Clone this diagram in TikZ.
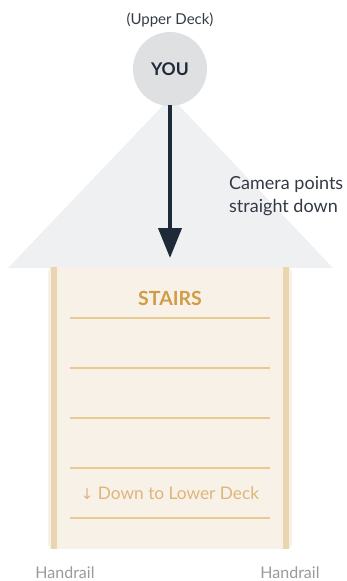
\documentclass[tikz,border=0pt]{standalone}
\usepackage{fontspec}
\setmainfont{Lato}
\newfontfamily\symfont{DejaVu Sans}
\usetikzlibrary{arrows.meta}
\definecolor{youfill}{HTML}{DFE0E2}
\definecolor{ink}{HTML}{1F2A38}
\definecolor{conefill}{HTML}{EFF0F2}
\definecolor{panel}{HTML}{F8F1E7}
\definecolor{rail}{HTML}{EAD5B3}
\definecolor{stepline}{HTML}{E8C98F}
\definecolor{stairtitle}{HTML}{D19C45}
\definecolor{downtxt}{HTML}{DDB67A}
\definecolor{greytxt}{HTML}{9A9A9A}
\definecolor{darktxt}{HTML}{333A44}
\tikzset{
  steprule/.style={draw=stepline, line width=1.8pt},
  railbar/.style={fill=rail, draw=none},
  lbl/.style={inner sep=0pt, text=darktxt},
}
\begin{document}
\begin{tikzpicture}[x=1pt,y=-1pt]
\useasboundingbox (0,0) rectangle (346,581);
% camera cone
\fill[conefill] (171,97) -- (333,268) -- (8,268) -- cycle;
% stairs panel
\fill[panel, rounded corners=5pt] (48,267) rectangle (292,549);
\fill[railbar] (51,267) rectangle (57,549);
\fill[railbar] (283,267) rectangle (289,549);
\node[inner sep=0pt, font=\fontsize{19.5}{22}\selectfont\bfseries, text=stairtitle] (stairs) at (170,298) {STAIRS};
\foreach \yy in {318,368,418,468,518} \draw[steprule] (70,\yy) -- (270,\yy);
\node[inner sep=0pt, font=\fontsize{17.3}{20}\selectfont, text=downtxt] (down) at (170,493) {{\symfont\fontsize{15}{18}\selectfont ↓} Down to Lower Deck};
% you
\node[lbl, font=\fontsize{15}{18}\selectfont] (upper) at (170,20) {(Upper Deck)};
\node[circle, fill=youfill, minimum size=74pt, inner sep=0pt, font=\fontsize{17.5}{20}\selectfont\bfseries, text=ink] (you) at (170,69) {YOU};
\coordinate (tip) at (170,258);
\draw[ink, line width=4pt, -{Triangle[length=30pt,width=23pt]}] (you.center) ++(0,36) -- (tip);
\node[inner sep=0pt, anchor=west, align=left, font=\fontsize{18}{23}\selectfont, text=darktxt] (cam) at (229,196) {Camera points\\straight down};
\node[inner sep=0pt, font=\fontsize{16}{18}\selectfont, text=greytxt] (hl) at (65,573) {Handrail};
\node[inner sep=0pt, font=\fontsize{16}{18}\selectfont, text=greytxt] (hr) at (290,573) {Handrail};
\end{tikzpicture}
\end{document}
